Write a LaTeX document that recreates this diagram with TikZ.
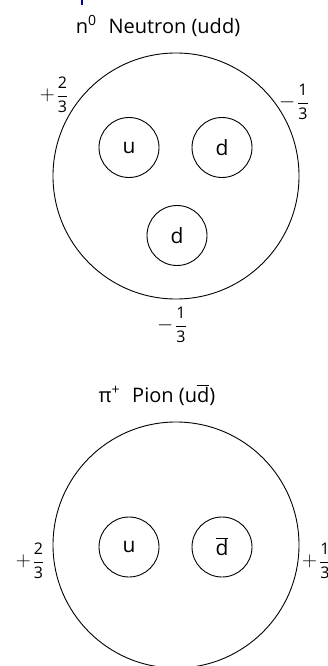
\documentclass[tikz,border=0pt]{standalone}
\usepackage{fontspec}
\setmainfont{Open Sans}
\newcommand{\fr}[2]{\ensuremath{\displaystyle\frac{\mbox{\fontsize{16}{17}\selectfont #1}}{\mbox{\fontsize{16}{17}\selectfont #2}}}}
\newcommand{\sgn}[1]{\mbox{\fontsize{20}{22}\selectfont$#1$}\hspace{2pt}}
\begin{document}
\begin{tikzpicture}[x=1pt,y=-1pt,
  big/.style={draw,circle,line width=0.9pt,minimum size=246pt,inner sep=0pt},
  quark/.style={draw,circle,line width=0.9pt,minimum size=60pt,inner sep=0pt,font=\fontsize{21}{23}\selectfont},
  ttl/.style={font=\fontsize{20}{22}\selectfont,inner sep=0pt},
  chg/.style={font=\fontsize{18}{20}\selectfont,inner sep=0pt}]
\useasboundingbox (0,0) rectangle (328,666);
\clip (0,0) rectangle (328,666);
\fill[blue!60!black] (81.3,0) rectangle (82.7,5);
% Neutron
\node[ttl] (ntitle) at (158,26) {n\textsuperscript{0}\hspace{0.6em}Neutron (udd)};
\node[big] (nbig) at (176,176) {};
\node[quark] (nu) at (129,147.5) {u};
\node[quark] (nd1) at (222,147.5) {d};
\node[quark] (nd2) at (177,235.5) {d};
\node[chg] (nc1) at (54,95) {\sgn{+}\fr{2}{3}};
\node[chg] (nc2) at (294,102) {\sgn{-}\fr{1}{3}};
\node[chg] (nc3) at (172,325) {\sgn{-}\fr{1}{3}};
% Pion
\node[ttl] (ptitle) at (157,395) {π\textsuperscript{+}\hspace{0.6em}Pion (u$\overline{\mbox{d}}$)};
\node[big] (pbig) at (176,545) {};
\node[quark] (pu) at (129,547) {u};
\node[quark] (pd) at (222,547) {$\overline{\mbox{d}}$};
\node[chg] (pc1) at (30,561) {\sgn{+}\fr{2}{3}};
\node[chg,anchor=west] (pc2) at (302,561) {\sgn{+}\fr{1}{3}};
\end{tikzpicture}
\end{document}
